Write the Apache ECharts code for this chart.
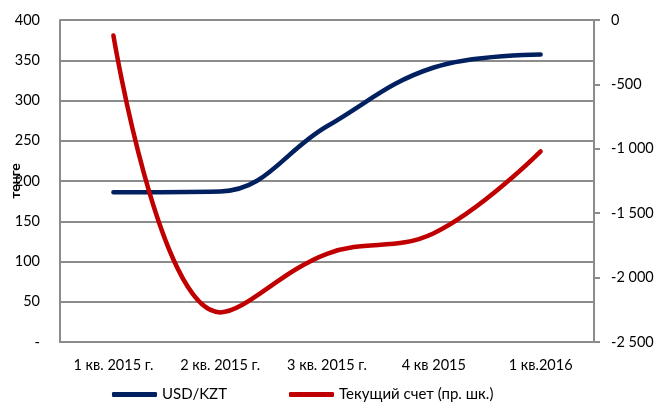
<!DOCTYPE html>
<html>
<head>
<meta charset="utf-8">
<script src="https://cdn.jsdelivr.net/npm/echarts@6/dist/echarts.min.js"></script>
<style>
  html, body { margin: 0; padding: 0; background: #fff; }
  #chart { width: 659px; height: 408px; }
</style>
</head>
<body>
<div id="chart"></div>
<script>
// кварталы
var quarters = ['1 кв. 2015 г.', '2 кв. 2015 г.', '3 кв. 2015 г.', '4 кв 2015', '1 кв.2016'];
// курс тенге, левая шкала
var usdKzt = [186, 187, 268, 341, 357];
// текущий счет, правая шкала
var currentAccount = [-120, -2270, -1815, -1655, -1020];

var FONT = 'Lato';
var gridColor = '#8c8c8c';

var chart = echarts.init(document.getElementById('chart'));

function spaced(v) {
    // -2500 -> "-2 500"
    var s = String(Math.abs(v)).replace(/\B(?=(\d{3})+(?!\d))/g, ' ');
    return (v < 0 ? '-' : '') + s;
}

var option = {
    animation: false,
    textStyle: { fontFamily: FONT },
    grid: { left: 60, right: 65, top: 20, bottom: 66, containLabel: false, outerBoundsMode: 'none' },
    legend: {
        bottom: 1,
        left: 107,
        itemWidth: 45,
        itemHeight: 5,
        itemGap: 62,
        icon: 'roundRect',
        textStyle: { fontFamily: FONT, fontSize: 15, color: '#000' },
        data: ['USD/KZT', 'Текущий счет (пр. шк.)']
    },
    xAxis: {
        type: 'category',
        data: quarters,
        boundaryGap: true,
        axisLine: { lineStyle: { color: gridColor, width: 2 } },
        axisTick: { show: false },
        axisLabel: { color: '#000', fontSize: 14.5, margin: 16, interval: 0 }
    },
    yAxis: [
        {
            type: 'value',
            min: 0, max: 400, interval: 50,
            name: 'тенге',
            nameLocation: 'middle',
            nameRotate: 90,
            nameGap: 38,
            nameMoveOverlap: false,
            nameTextStyle: { fontWeight: 'bold', fontSize: 14, color: '#000' },
            axisLine: { show: true, lineStyle: { color: gridColor, width: 2 } },
            axisTick: { show: false },
            splitLine: { lineStyle: { color: gridColor, width: 2 } },
            axisLabel: {
                color: '#000', fontSize: 14.5, margin: 20,
                formatter: function (v) { return v === 0 ? '-' : v; }
            }
        },
        {
            type: 'value',
            min: -2500, max: 0, interval: 500,
            position: 'right',
            axisLine: { show: true, lineStyle: { color: gridColor, width: 2 } },
            axisTick: { show: true, inside: false, length: 6, lineStyle: { color: gridColor, width: 2 } },
            splitLine: { show: false },
            axisLabel: { color: '#000', fontSize: 14.5, margin: 17, formatter: spaced }
        }
    ],
    series: [
        {
            name: 'USD/KZT',
            type: 'line',
            data: usdKzt,
            yAxisIndex: 0,
            smooth: 0.4,
            showSymbol: false,
            lineStyle: { color: '#002060', width: 4.5, cap: 'round' },
            itemStyle: { color: '#002060' }
        },
        {
            name: 'Текущий счет (пр. шк.)',
            type: 'line',
            data: currentAccount,
            yAxisIndex: 1,
            smooth: 0.4,
            showSymbol: false,
            lineStyle: { color: '#c00000', width: 4.5, cap: 'round' },
            itemStyle: { color: '#c00000' }
        }
    ]
};

chart.setOption(option);
</script>
</body>
</html>
